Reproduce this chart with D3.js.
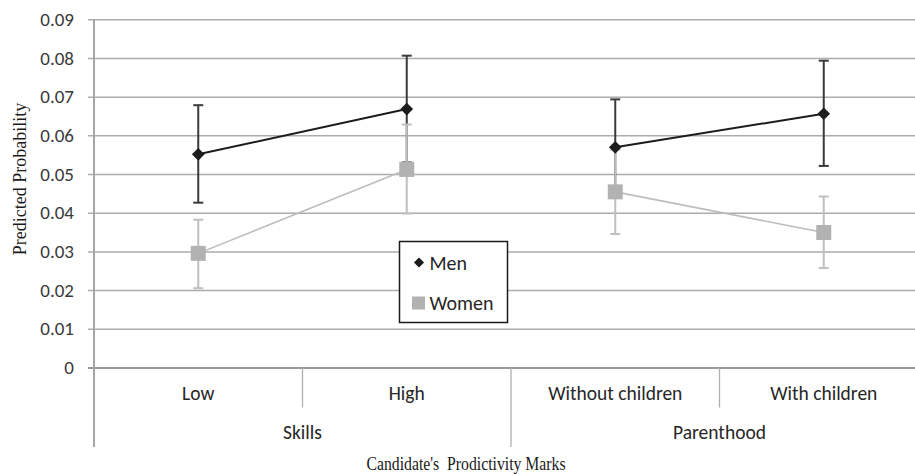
<!DOCTYPE html>
<html>
<head>
<meta charset="utf-8">
<script src="https://cdn.jsdelivr.net/npm/d3@7/dist/d3.min.js"></script>
<style>
  html, body { margin: 0; padding: 0; background: #fff; }
  svg { display: block; }
  .sans { font-family: Carlito, Lato, "Open Sans", sans-serif; }
  .serif { font-family: "Liberation Serif", "DejaVu Serif", serif; }
</style>
</head>
<body>
<svg id="chart" width="915" height="475"></svg>
<script>
// Categories, grouped into two levels on the x axis
const categories = ["Low", "High", "Without children", "With children"];
const groups = ["Skills", "Parenthood"];
const groupOf = ["Skills", "Skills", "Parenthood", "Parenthood"];

// Predicted probabilities with confidence bounds
const menValues   = [0.0551, 0.0668, 0.0569, 0.0656];
const menLower    = [0.0426, 0.0530, 0.0445, 0.0521];
const menUpper    = [0.0678, 0.0806, 0.0693, 0.0793];
const womenValues = [0.0295, 0.0512, 0.0454, 0.0349];
const womenLower  = [0.0205, 0.0398, 0.0345, 0.0257];
const womenUpper  = [0.0382, 0.0628, 0.0563, 0.0442];

const yTicks = [0, 0.01, 0.02, 0.03, 0.04, 0.05, 0.06, 0.07, 0.08, 0.09];
const yTickLabels = ["0", "0.01", "0.02", "0.03", "0.04", "0.05", "0.06", "0.07", "0.08", "0.09"];

const svg = d3.select("#chart");

const plotLeft = 94, plotRight = 928, plotTop = 19.3, plotBottom = 367.5;

const x = d3.scaleBand().domain(categories).range([plotLeft, plotRight]).padding(0);
const xGroup = d3.scaleBand().domain(groups).range([plotLeft, plotRight]).padding(0);
const y = d3.scaleLinear().domain([0, 0.09]).range([plotBottom, plotTop]);

// Horizontal gridlines and y tick labels
const yAxis = d3.axisLeft(y)
  .tickValues(yTicks)
  .tickSizeInner(-(plotRight - plotLeft))
  .tickSizeOuter(0)
  .tickPadding(20)
  .tickFormat((d, i) => yTickLabels[i]);

const gy = svg.append("g")
  .attr("transform", `translate(${plotLeft},0)`)
  .call(yAxis);
gy.select(".domain").remove();
gy.selectAll(".tick line")
  .attr("x1", -6)
  .attr("stroke", d => d === 0 ? "#9a9a9a" : "#acacac")
  .attr("stroke-width", d => d === 0 ? 2 : 1.5);
gy.selectAll(".tick text")
  .attr("class", "sans")
  .attr("fill", "#3a3a3a")
  .style("font-size", "19px");

// Vertical axis line, running down through the category label rows
svg.append("line")
  .attr("x1", plotLeft).attr("x2", plotLeft)
  .attr("y1", plotTop).attr("y2", 447)
  .attr("stroke", "#a6a6a6").attr("stroke-width", 2);

// Category separators: short ones inside a group, long ones between groups
categories.forEach((c, i) => {
  if (i === 0) return;
  const xb = x(c);
  const between = groupOf[i] !== groupOf[i - 1];
  svg.append("line")
    .attr("x1", xb).attr("x2", xb)
    .attr("y1", plotBottom).attr("y2", between ? 447 : 407.5)
    .attr("stroke", "#b0b0b0").attr("stroke-width", 1.3);
});

// Category labels
svg.append("g").selectAll("text")
  .data(categories)
  .join("text")
  .attr("class", "sans")
  .attr("x", d => x(d) + x.bandwidth() / 2)
  .attr("y", 400)
  .attr("text-anchor", "middle")
  .attr("fill", "#262626")
  .style("font-size", "19.5px")
  .text(d => d);

// Group labels
svg.append("g").selectAll("text")
  .data(groups)
  .join("text")
  .attr("class", "sans")
  .attr("x", d => xGroup(d) + xGroup.bandwidth() / 2)
  .attr("y", 439)
  .attr("text-anchor", "middle")
  .attr("fill", "#262626")
  .style("font-size", "19.5px")
  .text(d => d);

// Axis titles
svg.append("text")
  .attr("class", "serif")
  .attr("x", 466).attr("y", 470)
  .attr("text-anchor", "middle")
  .attr("fill", "#1a1a1a")
  .style("font-size", "18px")
  .style("white-space", "pre")
  .attr("xml:space", "preserve")
  .attr("textLength", 199)
  .attr("lengthAdjust", "spacingAndGlyphs")
  .text("Candidate's  Prodictivity Marks");

svg.append("text")
  .attr("class", "serif")
  .attr("transform", "translate(26,179) rotate(-90)")
  .attr("text-anchor", "middle")
  .attr("fill", "#1a1a1a")
  .style("font-size", "18px")
  .text("Predicted Probability");

const cx = i => x(categories[i]) + x.bandwidth() / 2;
const idx = d3.range(categories.length);

// Lines join points only within the same group
function drawLine(values, color, width) {
  groups.forEach(g => {
    const members = idx.filter(i => groupOf[i] === g);
    svg.append("path")
      .datum(members)
      .attr("fill", "none")
      .attr("stroke", color)
      .attr("stroke-width", width)
      .attr("d", d3.line().x(i => cx(i)).y(i => y(values[i])));
  });
}

function drawErrors(lower, upper, color) {
  const g = svg.append("g").attr("stroke", color).attr("stroke-width", 2);
  idx.forEach(i => {
    g.append("line").attr("x1", cx(i)).attr("x2", cx(i))
      .attr("y1", y(lower[i])).attr("y2", y(upper[i]));
    [lower[i], upper[i]].forEach(v => {
      g.append("line").attr("x1", cx(i) - 5).attr("x2", cx(i) + 5)
        .attr("y1", y(v)).attr("y2", y(v));
    });
  });
}

const menColor = "#1c1c1c", menBar = "#3a3a3a";
const womenColor = "#b2b2b2", womenLine = "#bdbdbd", womenBar = "#bfbfbf";

drawLine(menValues, menColor, 2);
drawErrors(menLower, menUpper, menBar);
drawLine(womenValues, womenLine, 1.6);
drawErrors(womenLower, womenUpper, womenBar);

// Women markers (squares)
svg.append("g").selectAll("rect")
  .data(idx)
  .join("rect")
  .attr("x", i => cx(i) - 7.5)
  .attr("y", i => y(womenValues[i]) - 7.5)
  .attr("width", 15).attr("height", 15)
  .attr("fill", womenColor);

// Men markers (diamonds)
svg.append("g").selectAll("path")
  .data(idx)
  .join("path")
  .attr("transform", i => `translate(${cx(i)},${y(menValues[i])}) rotate(45)`)
  .attr("d", d3.symbol().type(d3.symbolSquare).size(80))
  .attr("fill", menColor);

// Legend
const legend = svg.append("g").attr("transform", "translate(399.5,241.5)");
legend.append("rect")
  .attr("width", 108).attr("height", 81)
  .attr("fill", "#fff").attr("stroke", "#1a1a1a").attr("stroke-width", 1.5);
legend.append("path")
  .attr("transform", "translate(19.5,21) rotate(45)")
  .attr("d", d3.symbol().type(d3.symbolSquare).size(52))
  .attr("fill", menColor);
legend.append("rect")
  .attr("x", 12.5).attr("y", 55).attr("width", 13).attr("height", 13)
  .attr("fill", womenColor);
legend.append("text")
  .attr("class", "sans")
  .attr("x", 30).attr("y", 28)
  .attr("fill", "#262626")
  .style("font-size", "20px")
  .text("Men");
legend.append("text")
  .attr("class", "sans")
  .attr("x", 30).attr("y", 68)
  .attr("fill", "#262626")
  .style("font-size", "20px")
  .text("Women");
</script>
</body>
</html>
